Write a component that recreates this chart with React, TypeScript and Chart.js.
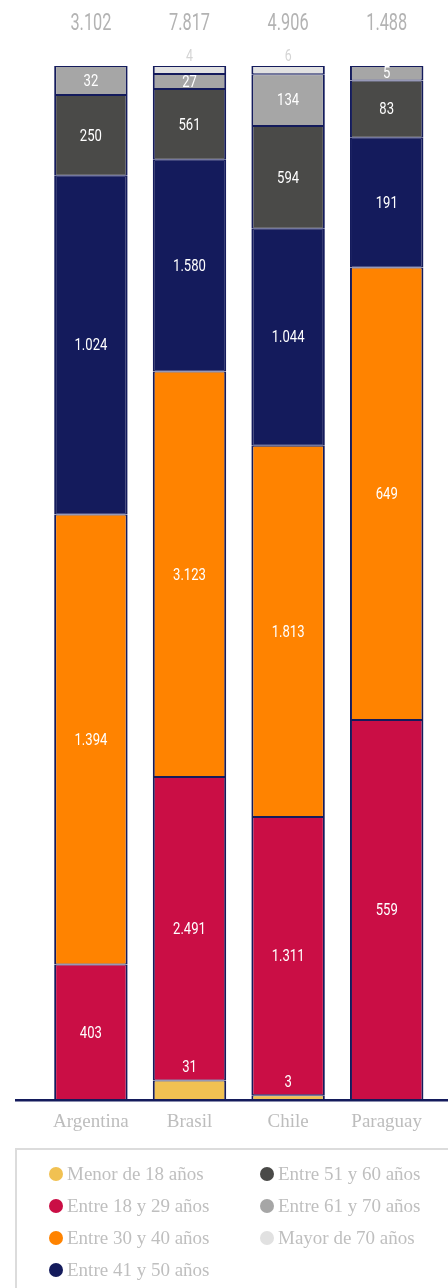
import React, { useEffect, useRef } from "react";
import { Chart, registerables } from "chart.js";

Chart.register(...registerables);

// ---- data ----
const countries = ["Argentina", "Brasil", "Chile", "Paraguay"];
const totals = [3102, 7817, 4906, 1488];

const seriesNames = [
  "Menor de 18 años",
  "Entre 18 y 29 años",
  "Entre 30 y 40 años",
  "Entre 41 y 50 años",
  "Entre 51 y 60 años",
  "Entre 61 y 70 años",
  "Mayor de 70 años",
];
const seriesColors = ["#f1c152", "#ca0e45", "#ff8300", "#141b5c", "#4a4a48", "#a6a6a6", "#e1e1e1"];

// counts shown as labels
const countMenor18 = [0, 31, 3, 0];
const count18a29 = [403, 2491, 1311, 559];
const count30a40 = [1394, 3123, 1813, 649];
const count41a50 = [1024, 1580, 1044, 191];
const count51a60 = [250, 561, 594, 83];
const count61a70 = [32, 27, 134, 5];
const countMayor70 = [0, 4, 6, 0];

// share (%) as drawn in the bars
const shareMenor18 = [0, 1.91, 0.48, 0];
const share18a29 = [13.13, 29.35, 26.91, 36.77];
const share30a40 = [43.51, 39.19, 35.9, 43.75];
const share41a50 = [32.75, 20.49, 20.97, 12.55];
const share51a60 = [7.8, 6.83, 9.93, 5.54];
const share61a70 = [2.81, 1.46, 5.01, 1.39];
const shareMayor70 = [0, 0.77, 0.8, 0];

const counts = [countMenor18, count18a29, count30a40, count41a50, count51a60, count61a70, countMayor70];
const shares = [shareMenor18, share18a29, share30a40, share41a50, share51a60, share61a70, shareMayor70];

const NAVY = "#141b5c";

function fmt(n: number): string {
  return n.toString().replace(/\B(?=(\d{3})+(?!\d))/g, ".");
}

function drawCondensed(ctx: CanvasRenderingContext2D, text: string, x: number, y: number, scale: number) {
  ctx.save();
  ctx.translate(x, y);
  ctx.scale(scale, 1);
  ctx.fillText(text, 0, 0);
  ctx.restore();
}

const labelPlugin = {
  id: "labelPlugin",
  afterDatasetsDraw(chart: any) {
    const ctx: CanvasRenderingContext2D = chart.ctx;
    const area = chart.chartArea;
    // baseline
    ctx.save();
    ctx.strokeStyle = NAVY;
    ctx.lineWidth = 2.5;
    ctx.beginPath();
    ctx.moveTo(15, area.bottom);
    ctx.lineTo(448, area.bottom);
    ctx.stroke();
    ctx.restore();

    ctx.save();
    ctx.textAlign = "center";
    chart.data.datasets.forEach((ds: any, i: number) => {
      const meta = chart.getDatasetMeta(i);
      meta.data.forEach((el: any, j: number) => {
        const v = counts[i][j];
        if (!v) return;
        const top = Math.min(el.y, el.base);
        const bottom = Math.max(el.y, el.base);
        ctx.font = "400 17px Roboto";
        if (i === 0) {
          ctx.fillStyle = "#ffffff";
          ctx.textBaseline = "alphabetic";
          drawCondensed(ctx, fmt(v), el.x, top - 8, 0.77);
        } else if (i === 6) {
          ctx.fillStyle = "#d4d4d4";
          ctx.font = "400 16px Roboto";
          ctx.textBaseline = "alphabetic";
          drawCondensed(ctx, fmt(v), el.x, top - 5, 0.77);
        } else {
          ctx.fillStyle = "#ffffff";
          ctx.textBaseline = "middle";
          drawCondensed(ctx, fmt(v), el.x, (top + bottom) / 2 + 1, 0.77);
        }
      });
    });
    // totals
    const meta0 = chart.getDatasetMeta(0);
    ctx.fillStyle = "#b3b3b3";
    ctx.font = "400 24px Roboto";
    ctx.textBaseline = "middle";
    meta0.data.forEach((el: any, j: number) => {
      drawCondensed(ctx, fmt(totals[j]), el.x, 24, 0.68);
    });
    ctx.restore();
  },
};

export default function App() {
  const canvasRef = useRef<HTMLCanvasElement | null>(null);

  useEffect(() => {
    if (!canvasRef.current) return;
    const chart = new Chart(canvasRef.current, {
      type: "bar",
      data: {
        labels: countries,
        datasets: seriesNames.map((name, i) => ({
          label: name,
          data: shares[i],
          backgroundColor: seriesColors[i],
          borderColor: NAVY,
          borderWidth: { top: 1, bottom: 1, left: 2, right: 2 },
          borderSkipped: false,
          barPercentage: 0.745,
          categoryPercentage: 1,
        })),
      },
      options: {
        animation: false,
        responsive: false,
        devicePixelRatio: 1,
        layout: { padding: { left: 41.6, right: 12, top: 66, bottom: 8 } },
        plugins: { legend: { display: false }, tooltip: { enabled: false } },
        scales: {
          x: {
            stacked: true,
            grid: { display: false, drawTicks: false },
            border: { display: false },
            ticks: {
              padding: 10,
              color: "#bdbdbd",
              font: { family: "'Liberation Serif', serif", size: 19 },
            },
          },
          y: {
            stacked: true,
            min: 0,
            max: 100,
            display: false,
          },
        },
      },
      plugins: [labelPlugin],
    });
    return () => chart.destroy();
  }, []);

  return (
    <div style={{ position: "absolute", left: 0, top: 0, width: 448, height: 1288, overflow: "hidden", background: "#fff" }}>
      <canvas ref={canvasRef} width={448} height={1151} style={{ position: "absolute", left: 0, top: 0 }} />
      <div
        style={{
          position: "absolute",
          left: 15,
          top: 1148,
          width: 470,
          height: 170,
          border: "2px solid #dcdcdc",
          boxSizing: "border-box",
        }}
      >
        {seriesNames.map((name, i) => {
          const col = i < 4 ? 0 : 1;
          const row = i < 4 ? i : i - 4;
          return (
            <div
              key={name}
              style={{
                position: "absolute",
                left: col === 0 ? 32 : 243,
                top: 24 + row * 32 - 12,
                height: 24,
                display: "flex",
                alignItems: "center",
                whiteSpace: "nowrap",
              }}
            >
              <span
                style={{
                  display: "inline-block",
                  width: 14,
                  height: 14,
                  borderRadius: "50%",
                  background: seriesColors[i],
                  marginRight: 4,
                }}
              />
              <span style={{ fontFamily: "'Liberation Serif', serif", fontSize: 19, color: "#bfbfbf", lineHeight: "24px" }}>
                {name}
              </span>
            </div>
          );
        })}
      </div>
    </div>
  );
}
